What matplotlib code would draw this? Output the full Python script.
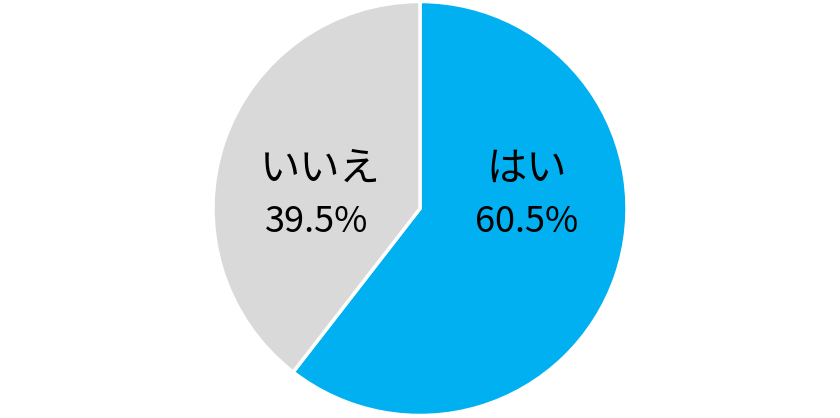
import matplotlib
matplotlib.use("Agg")
import matplotlib.pyplot as plt

plt.rcParams['font.family'] = ['Noto Sans CJK JP', 'DejaVu Sans']

labels = ['はい', 'いいえ']
values = [60.5, 39.5]
colors = ['#00B0F0', '#D9D9D9']

fig = plt.figure(figsize=(8.4, 4.18), dpi=100)
r = 207
cx, cy = 420, 208.5
ax = fig.add_axes([(cx - r) / 840, (418 - cy - r) / 418, 2 * r / 840, 2 * r / 418])

wedges, _ = ax.pie(values, colors=colors, startangle=90, counterclock=False,
                   radius=1.0, wedgeprops=dict(edgecolor='white', linewidth=2.5))
ax.set_xlim(-1, 1)
ax.set_ylim(-1, 1)
ax.set_aspect('equal')
ax.axis('off')

# label positions (relative to pie center)
pos = [(0.517, 0.19, 0.517, -0.065), (-0.483, 0.19, -0.497, -0.065)]
for lab, v, (x1, y1, x2, y2) in zip(labels, values, pos):
    ax.text(x1, y1, lab, ha='center', va='center', fontsize=29, color='black')
    ax.text(x2, y2, f'{v:.1f}%', ha='center', va='center', fontsize=26, color='black')

fig.savefig('out.png', dpi=100)
